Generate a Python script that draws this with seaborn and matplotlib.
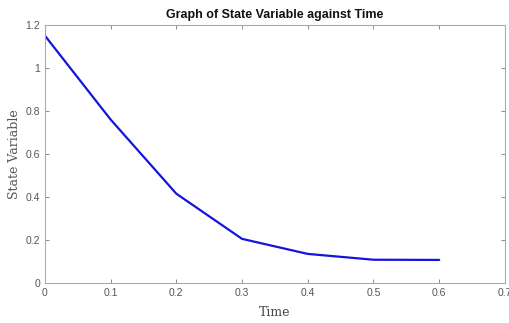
import matplotlib
matplotlib.use("Agg")
import matplotlib.pyplot as plt
import seaborn as sns
import pandas as pd

time = [0.0, 0.1, 0.2, 0.3, 0.4, 0.5, 0.6]
state = [1.15, 0.76, 0.415, 0.205, 0.135, 0.108, 0.107]
xticks = [0, 0.1, 0.2, 0.3, 0.4, 0.5, 0.6, 0.7]
xtick_labels = ["0", "0.1", "0.2", "0.3", "0.4", "0.5", "0.6", "0.7"]
yticks = [0, 0.2, 0.4, 0.6, 0.8, 1.0, 1.2]
ytick_labels = ["0", "0.2", "0.4", "0.6", "0.8", "1", "1.2"]

sns.set_style("white")
plt.rcParams['font.family'] = ['Liberation Sans', 'DejaVu Sans']

df = pd.DataFrame({"Time": time, "State": state})

fig = plt.figure(figsize=(5.1, 3.23), dpi=100)
ax = fig.add_axes([0.088, 0.124, 0.902, 0.799])
sns.lineplot(data=df, x="Time", y="State", ax=ax, color="#1414dc", linewidth=1.6)

ax.set_xlim(0, 0.7)
ax.set_ylim(0, 1.2)
ax.set_xticks(xticks)
ax.set_xticklabels(xtick_labels)
ax.set_yticks(yticks)
ax.set_yticklabels(ytick_labels)
ax.tick_params(direction="in", length=3, width=0.6, colors="#777777", labelsize=7.5,
               top=True, right=True, bottom=True, left=True, labelcolor="#555555")
for s in ax.spines.values():
    s.set_visible(True)
    s.set_color("#aaaaaa")
    s.set_linewidth(0.8)

ax.set_title("Graph of State Variable against Time", fontsize=9, fontweight="bold",
             pad=5, color="#111111")
ax.set_xlabel("Time", family="DejaVu Serif", fontsize=9, labelpad=6, color="#444444")
ax.set_ylabel("State Variable", family="DejaVu Serif", fontsize=9, labelpad=3, color="#555555")

fig.savefig("out.png", dpi=100)
